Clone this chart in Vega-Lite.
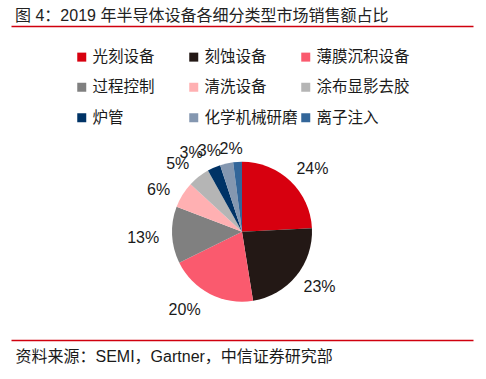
{
  "$schema": "https://vega.github.io/schema/vega-lite/v6.json",
  "autosize": {"type": "none"},
  "padding": {"left": 11, "top": 26, "right": 13, "bottom": 39},
  "width": 462,
  "height": 314,
  "background": "white",
  "config": {
    "view": {"stroke": null},
    "font": "Liberation Sans, Noto Sans CJK SC",
    "text": {"font": "Liberation Sans, Noto Sans CJK SC", "fontSize": 16, "color": "#1a1a1a"}
  },
  "title": {
    "text": "图 4：2019 年半导体设备各细分类型市场销售额占比",
    "anchor": "start",
    "frame": "group",
    "dx": 4,
    "offset": 5,
    "dy": 16,
    "baseline": "alphabetic",
    "fontSize": 16,
    "fontWeight": "normal",
    "font": "Liberation Sans, Noto Sans CJK SC",
    "color": "#222222"
  },
  "data": {
    "values": [
      {"i": 1, "name": "光刻设备", "v": 0.24},
      {"i": 2, "name": "刻蚀设备", "v": 0.23},
      {"i": 3, "name": "薄膜沉积设备", "v": 0.20},
      {"i": 4, "name": "过程控制", "v": 0.13},
      {"i": 5, "name": "清洗设备", "v": 0.06},
      {"i": 6, "name": "涂布显影去胶", "v": 0.05},
      {"i": 7, "name": "炉管", "v": 0.03},
      {"i": 8, "name": "化学机械研磨", "v": 0.03},
      {"i": 9, "name": "离子注入", "v": 0.02}
    ]
  },
  "encoding": {
    "y": {"datum": "a", "type": "nominal", "scale": {"align": 0.655}, "axis": null},
    "theta": {"field": "v", "type": "quantitative", "stack": true},
    "order": {"field": "i", "type": "quantitative"}
  },
  "layer": [
    {
      "mark": {"type": "arc", "outerRadius": 70, "stroke": null},
      "encoding": {
        "x": {"datum": "a", "type": "nominal", "axis": {"orient": "top", "labels": false, "ticks": false, "title": null, "domainColor": "#D0000E", "domainWidth": 1.5, "grid": false}},
        "color": {
          "field": "name",
          "type": "nominal",
          "scale": {
            "domain": ["光刻设备", "刻蚀设备", "薄膜沉积设备", "过程控制", "清洗设备", "涂布显影去胶", "炉管", "化学机械研磨", "离子注入"],
            "range": ["#D7000F", "#231815", "#FA5A6E", "#808080", "#FFB0B2", "#B5B5B5", "#003366", "#8497B0", "#336699"]
          },
          "legend": {
            "orient": "none",
            "legendX": 63,
            "legendY": 23,
            "columns": 3,
            "direction": "horizontal",
            "gridAlign": "all",
            "title": null,
            "symbolType": "square",
            "symbolSize": 81,
            "symbolStrokeWidth": 0,
            "labelFontSize": 15.5,
            "labelFont": "Noto Sans CJK SC",
            "labelColor": "#1a1a1a",
            "labelOffset": 3,
            "labelLimit": 200,
            "rowPadding": 13.5,
            "columnPadding": 0
          }
        }
      }
    },
    {
      "mark": {"type": "text", "radius": 94.5, "thetaOffset": 0.08},
      "encoding": {
        "x": {"datum": "a", "type": "nominal", "axis": {"orient": "bottom", "labels": false, "ticks": false, "grid": false, "domainColor": "#D0000E", "domainWidth": 1.5, "title": "资料来源：SEMI，Gartner，中信证券研究部", "titleFontSize": 16, "titleFontWeight": "normal", "titleColor": "#1a1a1a", "titleFont": "Liberation Sans, Noto Sans CJK SC", "titleAnchor": "start", "titleAlign": "left", "titleBaseline": "middle", "titleX": 4, "titleY": 16}},
        "text": {"condition": {"test": "datum.i == 1", "field": "v", "type": "quantitative", "format": ".0%"}, "value": ""}
      }
    },
    {
      "mark": {"type": "text", "radius": 95, "thetaOffset": -0.066},
      "encoding": {
        "x": {"datum": "a", "type": "nominal", "axis": null},
        "text": {"condition": {"test": "datum.i == 2", "field": "v", "type": "quantitative", "format": ".0%"}, "value": ""}
      }
    },
    {
      "mark": {"type": "text", "radius": 97, "thetaOffset": 0.157},
      "encoding": {
        "x": {"datum": "a", "type": "nominal", "axis": null},
        "text": {"condition": {"test": "datum.i == 3", "field": "v", "type": "quantitative", "format": ".0%"}, "value": ""}
      }
    },
    {
      "mark": {"type": "text", "radius": 99, "thetaOffset": -0.016},
      "encoding": {
        "x": {"datum": "a", "type": "nominal", "axis": null},
        "text": {"condition": {"test": "datum.i == 4", "field": "v", "type": "quantitative", "format": ".0%"}, "value": ""}
      }
    },
    {
      "mark": {"type": "text", "radius": 93, "thetaOffset": -0.096},
      "encoding": {
        "x": {"datum": "a", "type": "nominal", "axis": null},
        "text": {"condition": {"test": "datum.i == 5 || datum.i == 6", "field": "v", "type": "quantitative", "format": ".0%"}, "value": ""}
      }
    },
    {
      "mark": {"type": "text", "radius": 94, "thetaOffset": -0.16},
      "encoding": {
        "x": {"datum": "a", "type": "nominal", "axis": null},
        "text": {"condition": {"test": "datum.i == 7", "field": "v", "type": "quantitative", "format": ".0%"}, "value": ""}
      }
    },
    {
      "mark": {"type": "text", "radius": 87, "thetaOffset": -0.162},
      "encoding": {
        "x": {"datum": "a", "type": "nominal", "axis": null},
        "text": {"condition": {"test": "datum.i == 8", "field": "v", "type": "quantitative", "format": ".0%"}, "value": ""}
      }
    },
    {
      "mark": {"type": "text", "radius": 83, "thetaOffset": -0.068},
      "encoding": {
        "x": {"datum": "a", "type": "nominal", "axis": null},
        "text": {"condition": {"test": "datum.i == 9", "field": "v", "type": "quantitative", "format": ".0%"}, "value": ""}
      }
    }
  ],
  "resolve": {"scale": {"x": "independent"}, "axis": {"x": "independent"}}
}
